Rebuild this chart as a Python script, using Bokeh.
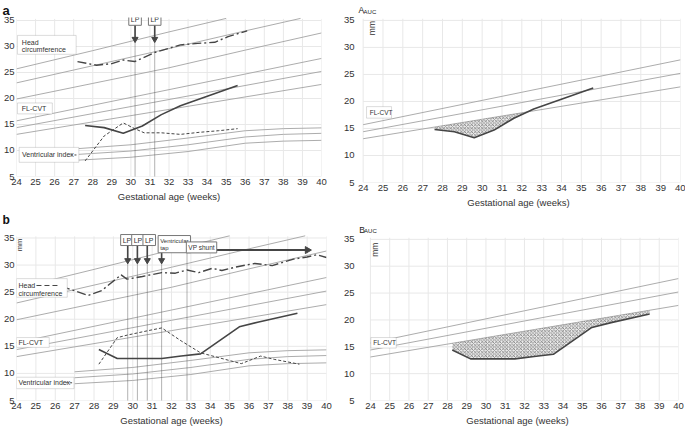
import numpy as np
from bokeh.plotting import figure
from bokeh.models import Label, BoxAnnotation, FixedTicker, Title
from bokeh.layouts import column, row
from bokeh.embed import file_html
from bokeh.resources import INLINE

FONT = "Liberation Sans"

# ---------------- data ----------------
weeks = list(range(24, 41))
y_ticks = [5, 10, 15, 20, 25, 30, 35]

# reference (percentile) curves
hc_ref_hi_x = [24, 28, 32, 35.0]
hc_ref_hi = [25.7, 29.2, 32.8, 35.4]
hc_ref_mid_x = [24, 28, 32, 36, 38.9]
hc_ref_mid = [23.0, 26.3, 29.6, 33.0, 35.4]
hc_ref_lo_x = [24, 28, 32, 36, 40]
hc_ref_lo = [19.9, 22.9, 25.9, 29.3, 32.6]

fl_ref_x = [24, 32, 40]
fl_ref_hi = [15.7, 21.7, 27.7]
fl_ref_mid = [14.4, 19.8, 25.2]
fl_ref_lo = [13.1, 17.9, 22.7]

vi_ref_x = [27, 30, 33, 36, 38, 40]
vi_ref_hi = [10.3, 11.1, 12.4, 13.8, 14.2, 14.35]
vi_ref_mid = [9.2, 9.9, 11.1, 12.6, 13.1, 13.3]
vi_ref_lo = [8.1, 8.7, 9.8, 11.4, 11.8, 11.95]

# case a
a_hc_x = [27.2, 28.2, 29.0, 29.6, 30.2, 31.3, 32.6, 33.5, 34.4, 35.1, 36.1]
a_hc_y = [27.1, 26.4, 26.7, 27.4, 27.1, 28.9, 30.3, 30.6, 30.8, 31.9, 33.0]
a_fl_x = [27.6, 28.6, 29.6, 30.6, 31.6, 32.6, 33.6, 34.6, 35.6]
a_fl_y = [14.8, 14.4, 13.3, 14.7, 16.9, 18.6, 19.9, 21.2, 22.5]
a_vi_x = [27.6, 28.6, 29.6, 30.2, 30.7, 31.6, 32.6, 33.6, 34.6, 35.6]
a_vi_y = [8.0, 12.8, 15.3, 14.2, 13.4, 13.4, 13.1, 13.5, 13.8, 14.2]
a_lp = [30.22, 31.25]

# case b
b_hc_x = [26.3, 27.7, 28.4, 29.4, 29.7, 30.5, 31.5, 32.2, 32.8, 33.4, 34.1, 34.6,
          35.4, 36.3, 37.2, 38.3, 39.0, 39.5, 40.0]
b_hc_y = [26.1, 24.4, 25.3, 28.2, 27.4, 27.9, 28.6, 28.5, 29.1, 28.6, 29.4, 29.0,
          29.7, 30.3, 29.9, 31.1, 31.5, 31.9, 31.4]
b_fl_x = [28.25, 29.2, 31.5, 32.5, 33.5, 35.5, 36.5, 38.5]
b_fl_y = [14.4, 12.75, 12.75, 13.2, 13.6, 18.6, 19.5, 21.1]
b_vi_x = [28.25, 29.2, 29.75, 30.8, 31.5, 32.5, 33.5, 35.6, 36.6, 37.3, 38.6]
b_vi_y = [11.7, 16.6, 17.1, 17.9, 18.4, 16.0, 13.8, 11.8, 13.2, 12.6, 11.7]
b_lp = [29.74, 30.24, 30.75]
b_tap = 31.49
b_shunt = 32.8
b_shunt_end = 39.14

REF = "#a3a3a3"
DARK = "#454545"
BOXLINE = "#8a8a8a"
GRID = "#e8e8e8"


def make_fig(w, h, xr, yr, bl, br, bt, bb, title=None, title_size="13px"):
    p = figure(width=w, height=h, x_range=xr, y_range=yr,
               output_backend="svg", toolbar_location=None, tools="",
               min_border_left=bl, min_border_right=br,
               min_border_top=bt, min_border_bottom=bb)
    if title is not None:
        p.title = Title(text=title, text_font=FONT, text_font_size=title_size,
                        text_font_style="bold", text_color="#111111",
                        align="left", offset=-14, standoff=0)
    p.xaxis.ticker = FixedTicker(ticks=weeks)
    p.yaxis.ticker = FixedTicker(ticks=y_ticks)
    for ax in (p.xaxis[0], p.yaxis[0]):
        ax.axis_line_color = None
        ax.major_tick_line_color = None
        ax.minor_tick_line_color = None
        ax.major_tick_out = 0
        ax.major_tick_in = 0
        ax.major_label_text_font = FONT
        ax.major_label_text_font_size = "9.5px"
        ax.major_label_text_color = "#333333"
        ax.major_label_standoff = 2
    p.xaxis.axis_label = "Gestational age (weeks)"
    p.xaxis.axis_label_text_font = FONT
    p.xaxis.axis_label_text_font_size = "9.5px"
    p.xaxis.axis_label_text_font_style = "normal"
    p.xaxis.axis_label_text_color = "#333333"
    p.xaxis.axis_label_standoff = 3
    p.xgrid.visible = False
    p.ygrid.visible = False
    # grid drawn only across the 24-40 / 5-35 area
    p.segment(x0=weeks, y0=5, x1=weeks, y1=35.3, line_color=GRID, line_width=1,
              level="underlay")
    p.segment(x0=24, y0=y_ticks, x1=40, y1=y_ticks, line_color=GRID, line_width=1,
              level="underlay")
    p.outline_line_color = None
    p.background_fill_color = "white"
    p.border_fill_color = "white"
    return p


def ref_line(p, xs, ys):
    p.line(xs, ys, line_color=REF, line_width=0.9)


def legend_box(p, left, right, top, bottom):
    p.add_layout(BoxAnnotation(left=left, right=right, top=top, bottom=bottom,
                               fill_color="white", fill_alpha=1.0,
                               line_color=BOXLINE, line_width=1, level="annotation"))


def text(p, x, y, t, size="7px", align="left", baseline="middle", bold=False,
         angle=0, color="#333333"):
    p.add_layout(Label(x=x, y=y, text=t, text_font=FONT, text_font_size=size,
                       text_align=align, text_baseline=baseline, angle=angle,
                       angle_units="deg", text_color=color,
                       text_font_style="bold" if bold else "normal"))


def boxed(p, x, y, t, size="7px", align="center", baseline="middle", pad=2):
    p.add_layout(Label(x=x, y=y, text=t, text_font=FONT, text_font_size=size,
                       text_align=align, text_baseline=baseline, text_color="#333333",
                       border_line_color="#777777", border_line_width=1,
                       background_fill_color="white", background_fill_alpha=1.0,
                       padding=pad))


def arrow_down(p, x, ytop, ytip, pxmm):
    p.segment(x0=[x], y0=[ytop], x1=[x], y1=[ytip + 2.0 / pxmm],
              line_color=DARK, line_width=1.6)
    p.scatter(x=[x], y=[ytip + 2.2 / pxmm], marker="inverted_triangle", size=6,
              fill_color=DARK, line_color=DARK)


def arrow_right(p, x0, xtip, y, pxwk):
    p.segment(x0=[x0], y0=[y], x1=[xtip - 2.0 / pxwk], y1=[y],
              line_color=DARK, line_width=2)
    p.scatter(x=[xtip - 2.5 / pxwk], y=[y], marker="triangle", size=7,
              angle=-np.pi / 2, fill_color=DARK, line_color=DARK)


def seg(p, x0, x1, y, dash):
    p.segment(x0=[x0], y0=[y], x1=[x1], y1=[y], line_color=DARK, line_width=1,
              line_dash=dash, level="overlay")


def vlines(p, xs):
    p.segment(x0=xs, y0=[5] * len(xs), x1=xs, y1=[35.3] * len(xs),
              line_color="#555555", line_width=0.9, line_dash="1 1")


def hatch_area(p, dx, dy):
    xs = np.linspace(dx[0], dx[-1], 600)
    d = np.interp(xs, dx, dy)
    lo = np.interp(xs, fl_ref_x, fl_ref_lo)
    top = np.where(d < lo, lo, d)
    p.varea(x=xs, y1=d, y2=top, fill_color="#d0d0d0", fill_alpha=0.4,
            hatch_pattern="x", hatch_color="#555555", hatch_scale=3.5,
            hatch_weight=0.6)


def all_refs(p):
    ref_line(p, hc_ref_hi_x, hc_ref_hi)
    ref_line(p, hc_ref_mid_x, hc_ref_mid)
    ref_line(p, hc_ref_lo_x, hc_ref_lo)
    for ys in (fl_ref_hi, fl_ref_mid, fl_ref_lo):
        ref_line(p, fl_ref_x, ys)
    for ys in (vi_ref_hi, vi_ref_mid, vi_ref_lo):
        ref_line(p, vi_ref_x, ys)


HC_DASH = "9 3 2 3"
VI_DASH = "3 2"

# ---------------- panel a (left) ----------------
fa = make_fig(340, 210, (24, 40), (5, 35.573), 14, 19, 16, 34, title="a")
all_refs(fa)
vlines(fa, a_lp)
fa.line(a_hc_x, a_hc_y, line_color=DARK, line_width=1.4, line_dash=HC_DASH)
fa.line(a_fl_x, a_fl_y, line_color=DARK, line_width=1.6)
fa.line(a_vi_x, a_vi_y, line_color=DARK, line_width=1.0, line_dash=VI_DASH)
for x in a_lp:
    arrow_down(fa, x, 35, 31.0, 5.23)
legend_box(fa, 24.05, 27.13, 32.13, 28.5)
text(fa, 24.28, 30.8, "Head")
text(fa, 24.28, 29.4, "circumference")
legend_box(fa, 24.05, 25.88, 19.14, 17.04)
text(fa, 24.28, 18.09, "FL-CVT")
legend_box(fa, 24.14, 27.27, 10.6, 7.73)
text(fa, 24.29, 9.14, "Ventricular index")
seg(fa, 26.83, 27.2, 9.14, "2 2")
for x in a_lp:
    boxed(fa, x, 35.13, "LP", size="7px", pad=2)

# ---------------- panel A AUC (right) ----------------
fra = make_fig(345, 210, (23.664, 40), (5, 38.68), 14, 5, 0, 27)
for ys in (fl_ref_hi, fl_ref_mid, fl_ref_lo):
    ref_line(fra, fl_ref_x, ys)
hatch_area(fra, a_fl_x, a_fl_y)
fra.line(a_fl_x, a_fl_y, line_color=DARK, line_width=1.6)
legend_box(fra, 24.17, 25.43, 19.04, 16.91)
text(fra, 24.33, 17.97, "FL-CVT", size="6.5px")
text(fra, 24.45, 33.58, "mm", size="8.5px", align="center", angle=90)
text(fra, 23.76, 36.84, "A", size="8.5px", baseline="alphabetic", color="#222222")
text(fra, 24.02, 36.53, "AUC", size="6px", baseline="alphabetic", color="#222222")

# ---------------- panel b (left) ----------------
fb = make_fig(340, 218, (24, 40), (5, 37.12), 14, 14, 15, 27, title="b",
              title_size="12px")
all_refs(fb)
vlines(fb, b_lp + [b_tap, b_shunt])
fb.line(b_hc_x, b_hc_y, line_color=DARK, line_width=1.4, line_dash=HC_DASH)
fb.line(b_fl_x, b_fl_y, line_color=DARK, line_width=1.6)
fb.line(b_vi_x, b_vi_y, line_color=DARK, line_width=1.0, line_dash=VI_DASH)
for x in b_lp + [b_tap]:
    arrow_down(fb, x, 35.3, 30.46, 5.48)
arrow_right(fb, 34.31, b_shunt_end, 32.77, 19.5)
legend_box(fb, 24.0, 26.62, 27.5, 24.06)
text(fb, 24.1, 26.23, "Head")
seg(fb, 25.03, 26.26, 26.23, "5 3")
text(fb, 24.1, 24.84, "circumference")
legend_box(fb, 24.0, 25.69, 16.62, 14.8)
text(fb, 24.1, 15.71, "FL-CVT")
legend_box(fb, 24.0, 26.97, 9.3, 7.18)
text(fb, 24.1, 8.27, "Ventricular index")
seg(fb, 26.56, 26.92, 8.27, "2 2")
for xc in [29.70, 30.27, 30.85]:
    boxed(fb, xc, 34.62, "LP", size="7px", pad=2)
boxed(fb, 31.31, 35.45, "Ventricular\ntap", size="6px", align="left", baseline="top", pad=2)
boxed(fb, 33.55, 33.26, "VP shunt", size="6.5px", pad=2)
text(fb, 24.15, 33.7, "mm", size="7.5px", align="center", angle=90)

# ---------------- panel B AUC (right) ----------------
frb = make_fig(345, 218, (23.277, 40), (5, 40.37), 14, 7, 0, 27)
for ys in (fl_ref_hi, fl_ref_mid, fl_ref_lo):
    ref_line(frb, fl_ref_x, ys)
hatch_area(frb, b_fl_x, b_fl_y)
frb.line(b_fl_x, b_fl_y, line_color=DARK, line_width=1.6)
legend_box(frb, 24.02, 25.34, 16.72, 14.76)
text(frb, 24.15, 15.74, "FL-CVT", size="6.5px")
text(frb, 24.26, 33.06, "mm", size="8.5px", align="center", angle=90)
text(frb, 23.42, 36.67, "B", size="8.5px", baseline="alphabetic", color="#222222")
text(frb, 23.67, 36.54, "AUC", size="6px", baseline="alphabetic", color="#222222")

# each figure in its own column so that frames are not aligned across a row
layout = column(row(column(fa), column(fra)), row(column(fb), column(frb)))
open("out.html", "w").write(file_html(layout, INLINE))
